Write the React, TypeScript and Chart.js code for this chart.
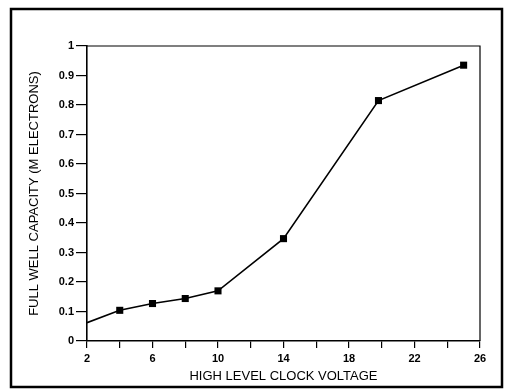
import React, { useEffect, useRef } from "react";
import { Chart, registerables } from "chart.js";

Chart.register(...registerables);

const voltage = [2, 4, 6, 8, 10, 14, 19.8, 25];
const capacity = [0.062, 0.104, 0.127, 0.144, 0.17, 0.347, 0.815, 0.935];
const markerShown = [false, true, true, true, true, true, true, true];
const xLabelTicks = [2, 6, 10, 14, 18, 22, 26];
const xTitle = "HIGH LEVEL CLOCK VOLTAGE";
const yTitle = "FULL WELL CAPACITY (M ELECTRONS)";

const FONT = '"Liberation Sans Narrow", "Liberation Sans", Arial, sans-serif';
const TITLE_FONT = '"Liberation Sans", Arial, sans-serif';

const framePlugin = {
  id: "frame",
  afterDraw(chart: any) {
    const { ctx, chartArea } = chart;
    ctx.save();
    ctx.strokeStyle = "#000";
    // outer border
    ctx.lineWidth = 2.5;
    ctx.strokeRect(11, 9, 491, 378);
    // plot box top & right
    ctx.lineWidth = 1.2;
    ctx.beginPath();
    ctx.moveTo(chartArea.left, chartArea.top);
    ctx.lineTo(chartArea.right, chartArea.top);
    ctx.lineTo(chartArea.right, chartArea.bottom);
    ctx.stroke();
    ctx.restore();
  },
};

export default function App() {
  const ref = useRef<HTMLCanvasElement | null>(null);
  useEffect(() => {
    if (!ref.current) return;
    const chart = new Chart(ref.current, {
      type: "line",
      data: {
        datasets: [
          {
            data: voltage.map((v, i) => ({ x: v, y: capacity[i] })),
            borderColor: "#000",
            backgroundColor: "#000",
            borderWidth: 1.6,
            pointStyle: "rect",
            pointRadius: markerShown.map((m) => (m ? 5 : 0)),
            pointBorderWidth: 0,
            tension: 0,
          },
        ],
      },
      options: {
        animation: false,
        responsive: false,
        plugins: { legend: { display: false }, tooltip: { enabled: false } },
        layout: { padding: { left: 22, right: 27, top: 46, bottom: 6 } },
        scales: {
          x: {
            type: "linear",
            min: 2,
            max: 26,
            ticks: {
              stepSize: 2,
              color: "#000",
              font: { family: FONT, size: 11, weight: "bold" },
              padding: 4,
              maxRotation: 0,
              autoSkip: false,
              callback: (v: any) => (xLabelTicks.includes(Number(v)) ? String(v) : ""),
            },
            grid: { drawOnChartArea: false, color: "#000", tickLength: 7, lineWidth: 1.2 },
            border: { color: "#000", width: 1.6 },
            title: {
              display: true,
              text: xTitle,
              color: "#000",
              font: { family: TITLE_FONT, size: 13 },
              padding: { top: 0, bottom: 0 },
            },
            afterFit: (s: any) => {
              s.height = 43;
            },
          },
          y: {
            type: "linear",
            min: 0,
            max: 1,
            ticks: {
              stepSize: 0.1,
              color: "#000",
              font: { family: FONT, size: 11, weight: "bold" },
              padding: 2,
              callback: (v: any) => String(Number(Number(v).toFixed(1))),
            },
            grid: { drawOnChartArea: false, color: "#000", tickLength: 11, lineWidth: 1.2 },
            border: { color: "#000", width: 1.6 },
            title: {
              display: true,
              text: yTitle,
              color: "#000",
              font: { family: TITLE_FONT, size: 13 },
              padding: { top: 5, bottom: 0 },
            },
            afterFit: (s: any) => {
              s.width = 65;
            },
          },
        },
      },
      plugins: [framePlugin],
    });
    return () => chart.destroy();
  }, []);
  return (
    <div style={{ position: "absolute", left: 0, top: 0, width: 507, height: 390, background: "#fff" }}>
      <canvas ref={ref} width={507} height={390} style={{ display: "block" }} />
    </div>
  );
}
